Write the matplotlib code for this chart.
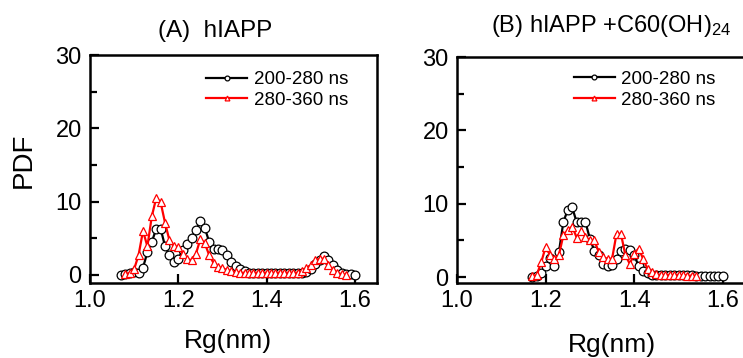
import matplotlib
matplotlib.use("Agg")
import matplotlib.pyplot as plt
import numpy as np

plt.rcParams['font.family'] = ['Liberation Sans', 'DejaVu Sans']
plt.rcParams['mathtext.fontset'] = 'custom'
plt.rcParams['mathtext.rm'] = 'Liberation Sans'
plt.rcParams['mathtext.it'] = 'Liberation Sans'

# (A) hIAPP, Rg grid 1.07 .. 1.60 nm
rg_a_black = [1.07 + 0.01 * i for i in range(54)]
pdf_a_black = [0.0, 0.1, 0.2, 0.4, 0.3, 1.0, 3.1, 4.5, 6.3, 6.3,
               3.9, 2.7, 1.8, 2.2, 3.4, 4.2, 5.1, 6.1, 7.3, 6.4,
               4.5, 3.6, 3.6, 3.4, 2.7, 1.8, 1.2, 0.8, 0.5, 0.3,
               0.25, 0.2, 0.2, 0.2, 0.2, 0.2, 0.2, 0.2, 0.2, 0.2,
               0.25, 0.3, 0.4, 0.8, 1.5, 2.1, 2.6, 2.1, 1.3, 0.7,
               0.3, 0.1, 0.1, 0.0]
rg_a_red = [1.08 + 0.01 * i for i in range(51)]
pdf_a_red = [0.1, 0.3, 0.8, 2.7, 6.0, 3.9, 8.0, 10.5, 9.9, 7.1,
             4.7, 3.9, 3.8, 2.9, 2.2, 2.0, 2.9, 4.9, 4.3, 2.7,
             1.6, 1.1, 0.9, 0.7, 0.5, 0.4, 0.3, 0.3, 0.3, 0.3,
             0.3, 0.3, 0.3, 0.3, 0.3, 0.3, 0.3, 0.3, 0.3, 0.3,
             0.5, 0.9, 1.3, 2.0, 2.2, 2.2, 1.3, 0.7, 0.3, 0.1,
             0.0]

# (B) hIAPP + C60(OH)24
rg_b_black = [1.17 + 0.01 * i for i in range(44)]
pdf_b_black = [0.0, 0.1, 0.6, 1.5, 2.6, 1.5, 3.4, 7.5, 9.2, 9.5,
               7.5, 7.5, 7.5, 5.2, 3.6, 3.0, 1.8, 1.5, 1.6, 2.5,
               3.6, 3.9, 3.7, 3.0, 1.5, 0.9, 0.5, 0.35, 0.3, 0.3,
               0.3, 0.3, 0.3, 0.3, 0.3, 0.25, 0.25, 0.2, 0.2, 0.2,
               0.2, 0.2, 0.15, 0.1]
rg_b_red = [1.17 + 0.01 * i for i in range(38)]
pdf_b_red = [0.1, 0.3, 2.0, 4.1, 3.0, 2.5, 3.0, 5.7, 6.4, 6.9,
             5.4, 6.3, 5.5, 5.0, 5.0, 3.4, 2.7, 2.5, 2.5, 5.9,
             5.9, 3.0, 1.8, 3.2, 3.9, 2.5, 1.1, 0.7, 0.4, 0.3,
             0.3, 0.3, 0.3, 0.3, 0.25, 0.2, 0.2, 0.2]

labels = ['200-280 ns', '280-360 ns']

W, H = 743, 358
fig = plt.figure(figsize=(W / 100, H / 100), dpi=100)
ax1 = fig.add_axes([90 / W, 75 / H, 287 / W, 228 / H])
ax2 = fig.add_axes([457 / W, 75 / H, 288 / W, 226 / H])


def draw(ax, xb, yb, xr, yr, ylim):
    ax.plot(xb, yb, '-o', color='black', lw=1.6, ms=6.3, mfc='white',
            mec='black', mew=0.9, label=labels[0])
    ax.plot(xr, yr, '-^', color='red', lw=1.6, ms=6.3, mfc='white',
            mec='red', mew=0.9, label=labels[1])
    ax.set_xlim(1.0, 1.65)
    ax.set_ylim(*ylim)
    ax.set_xticks([1.0, 1.2, 1.4, 1.6])
    ax.set_yticks([0, 10, 20, 30])
    ax.set_yticks([5, 15, 25], minor=True)
    ax.tick_params(axis='both', which='major', direction='in', length=6.5,
                   width=1.6, labelsize=17)
    ax.tick_params(axis='x', pad=5)
    ax.tick_params(axis='y', pad=6)
    ax.tick_params(axis='y', which='minor', direction='in', length=5, width=1.6)
    for s in ax.spines.values():
        s.set_linewidth(1.8)
    ax.set_xlabel('Rg(nm)', fontsize=19)


draw(ax1, rg_a_black, pdf_a_black, rg_a_red, pdf_a_red, (-1.1, 29.7))
draw(ax2, rg_b_black, pdf_b_black, rg_b_red, pdf_b_red, (-0.8, 29.9))

ax1.set_ylabel('PDF', fontsize=20)
ax1.yaxis.set_label_coords(-0.185, 0.54)
ax1.xaxis.set_label_coords(0.48, -0.2)
ax2.xaxis.set_label_coords(0.538, -0.222)

ax1.text(0.435, 1.079, '(A)  hIAPP', transform=ax1.transAxes, ha='center',
         va='baseline', fontsize=17.5)
ax2.text(0.535, 1.111, '(B) hIAPP +C60(OH)$_{24}$', transform=ax2.transAxes,
         ha='center', va='baseline', fontsize=17)

for ax, top in [(ax1, 0.93), (ax2, 0.94)]:
    ax.legend(loc='upper left', bbox_to_anchor=(0.405, top), frameon=False,
              fontsize=13.5, handlelength=2.2, handletextpad=0.35,
              labelspacing=0.2, borderpad=0, borderaxespad=0, markerscale=0.55)

fig.savefig('out.png', dpi=100)
